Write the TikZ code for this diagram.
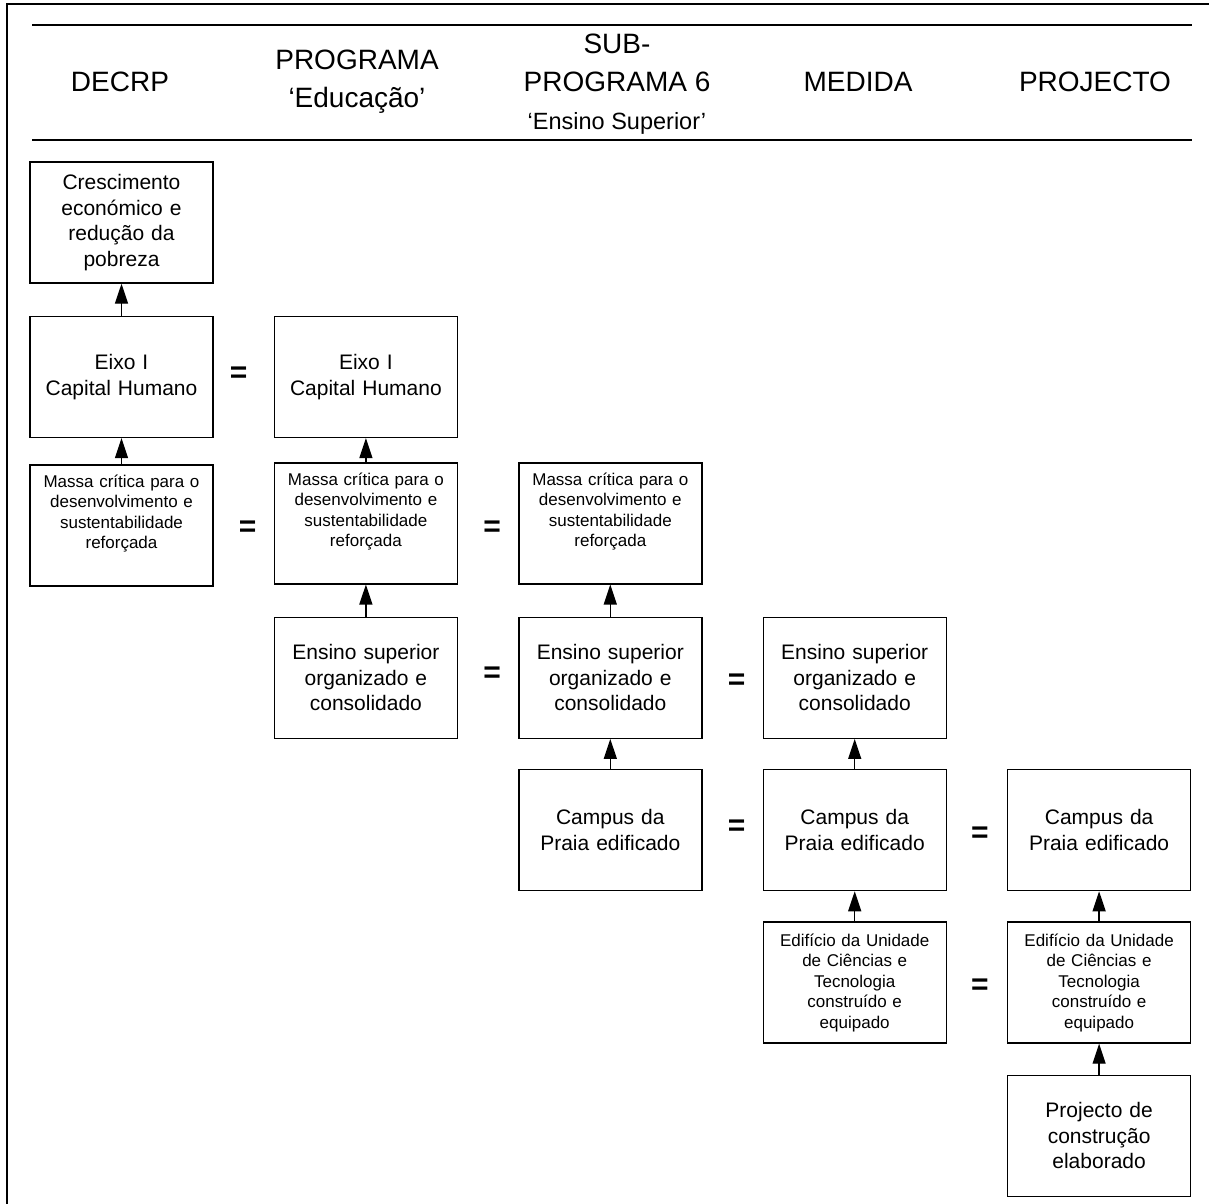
\documentclass[tikz,border=0pt]{standalone}
\usepackage{fontspec}
\setmainfont{Liberation Sans}
\usetikzlibrary{arrows.meta, positioning, calc}
\tikzset{
    outcome/.style={rectangle, draw=black, line width=1.4pt, minimum width=183pt, minimum height=121pt, text width=172pt, inner sep=0pt, align=center, font=\fontsize{21}{25.5}\selectfont},
    smalloutcome/.style={outcome, font=\fontsize{17}{20.5}\selectfont},
    heading/.style={align=center, inner sep=0pt, font=\fontsize{28}{38}\selectfont},
    equal/.style={inner sep=0pt, font=\fontsize{30}{30}\selectfont\bfseries},
    link/.style={line width=1.3pt, -{Triangle[width=13pt,length=20pt]}},
    rule/.style={line width=2.2pt}
}

\begin{document}
\begin{tikzpicture}[x=1pt, y=-1pt]

    \useasboundingbox (0,0) rectangle (1209,1203);
    \draw [line width=1.8pt] (7,1215) -- (7,4) -- (1215,4);

    % --- CABECALHO ---
    \draw [rule] (32,25) -- (1192,25);
    \draw [rule] (32,140) -- (1192,140);
    \node (h_decrp) [heading] at (120,82) {DECRP};
    \node (h_prog) [heading] at (357,82) {PROGRAMA\\‘Educação’};
    \node (h_sub) [heading] at (617,84) {SUB-\\PROGRAMA 6\\{\fontsize{23.5}{25}\selectfont ‘Ensino Superior’}};
    \node (h_med) [heading] at (858,82) {MEDIDA};
    \node (h_proj) [heading] at (1095,82) {PROJECTO};

    % --- CAIXAS ---
    \node (cresc) [outcome] at (121.5,222.5) {Crescimento\\económico e\\redução da\\pobreza};
    \node (eixo_decrp) [outcome, below=32pt of cresc] {Eixo I\\Capital Humano};
    \node (massa_decrp) [smalloutcome, below=26pt of eixo_decrp] {Massa crítica para o\\desenvolvimento e\\sustentabilidade\\reforçada\\ \strut};

    \node (eixo_prog) [outcome, right=60pt of eixo_decrp] {Eixo I\\Capital Humano};
    \node (massa_prog) [smalloutcome, below=24pt of eixo_prog] {Massa crítica para o\\desenvolvimento e\\sustentabilidade\\reforçada\\ \strut};
    \node (ensino_prog) [outcome, below=32pt of massa_prog] {Ensino superior\\organizado e\\consolidado};

    \node (massa_sub) [smalloutcome, right=60pt of massa_prog] {Massa crítica para o\\desenvolvimento e\\sustentabilidade\\reforçada\\ \strut};
    \node (ensino_sub) [outcome, right=60pt of ensino_prog] {Ensino superior\\organizado e\\consolidado};
    \node (campus_sub) [outcome, below=30pt of ensino_sub] {Campus da\\Praia edificado};

    \node (ensino_med) [outcome, right=60pt of ensino_sub] {Ensino superior\\organizado e\\consolidado};
    \node (campus_med) [outcome, right=60pt of campus_sub] {Campus da\\Praia edificado};
    \node (edif_med) [smalloutcome, below=30pt of campus_med] {Edifício da Unidade\\de Ciências e\\Tecnologia\\construído e\\equipado};

    \node (campus_proj) [outcome, right=60pt of campus_med] {Campus da\\Praia edificado};
    \node (edif_proj) [smalloutcome, right=60pt of edif_med] {Edifício da Unidade\\de Ciências e\\Tecnologia\\construído e\\equipado};
    \node (proj_const) [outcome, below=31pt of edif_proj] {Projecto de\\construção\\elaborado};

    % --- SINAIS = ---
    \node (eq_eixo) [equal, xshift=-5pt, yshift=2pt] at ($(eixo_decrp.east)!0.5!(eixo_prog.west)$) {=};
    \node (eq_massa_a) [equal, xshift=4pt, yshift=-4.5pt] at ($(massa_decrp.east)!0.5!(massa_prog.west)$) {=};
    \node (eq_massa_b) [equal, xshift=4pt, yshift=-5.5pt] at ($(massa_prog.east)!0.5!(massa_sub.west)$) {=};
    \node (eq_ensino_a) [equal, xshift=4pt, yshift=3pt] at ($(ensino_prog.east)!0.5!(ensino_sub.west)$) {=};
    \node (eq_ensino_b) [equal, xshift=4pt, yshift=-3.5pt] at ($(ensino_sub.east)!0.5!(ensino_med.west)$) {=};
    \node (eq_campus_a) [equal, xshift=4pt, yshift=2.5pt] at ($(campus_sub.east)!0.5!(campus_med.west)$) {=};
    \node (eq_campus_b) [equal, xshift=3pt, yshift=-4.5pt] at ($(campus_med.east)!0.5!(campus_proj.west)$) {=};
    \node (eq_edif) [equal, xshift=3pt, yshift=-4.5pt] at ($(edif_med.east)!0.5!(edif_proj.west)$) {=};

    % --- SETAS ---
    \draw [link] (eixo_decrp) -- (cresc);
    \draw [link] (massa_decrp) -- (eixo_decrp);
    \draw [link] (massa_prog) -- (eixo_prog);
    \draw [link] (ensino_prog) -- (massa_prog);
    \draw [link] (ensino_sub) -- (massa_sub);
    \draw [link] (campus_sub) -- (ensino_sub);
    \draw [link] (campus_med) -- (ensino_med);
    \draw [link] (edif_med) -- (campus_med);
    \draw [link] (edif_proj) -- (campus_proj);
    \draw [link] (proj_const) -- (edif_proj);

\end{tikzpicture}
\end{document}
